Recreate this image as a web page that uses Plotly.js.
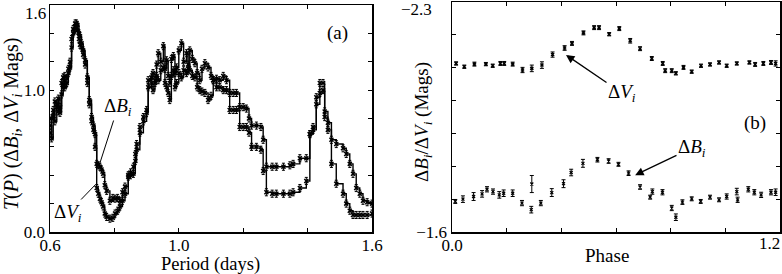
<!DOCTYPE html>
<html><head><meta charset="utf-8">
<script src="https://cdn.plot.ly/plotly-3.0.1.min.js"></script>
<style>html,body{margin:0;padding:0;background:#fff}#c{width:782px;height:274px}</style>
</head><body><div id="c"></div>
<script>
// Panel (a): periodogram T(P)
const periodA = [0.600,0.605,0.610,0.615,0.621,0.626,0.631,0.636,0.641,0.646,0.652,0.657,0.662,0.667,0.672,0.678,0.682,0.685,0.690,0.693,0.698,0.703,0.709,0.716,0.722,0.729,0.735,0.740,0.745,0.750,0.755,0.760,0.765,0.770,0.776,0.786,0.795,0.802,0.810,0.817,0.825,0.833,0.843,0.850,0.859,0.865,0.869,0.879,0.890,0.900,0.905,0.915,0.920,0.926,0.931,0.936,0.944,0.952,0.957,0.962,0.967,0.972,0.977,0.983,0.988,0.993,1.000,1.008,1.015,1.024,1.029,1.034,1.042,1.050,1.057,1.065,1.072,1.081,1.091,1.100,1.107,1.117,1.127,1.138,1.148,1.158,1.169,1.179,1.189,1.200,1.210,1.218,1.226,1.241,1.255,1.262,1.272,1.290,1.303,1.325,1.345,1.355,1.376,1.396,1.407,1.417,1.427,1.438,1.448,1.453,1.463,1.474,1.489,1.510,1.520,1.531,1.541,1.551,1.562,1.572,1.585,1.600];
const tB = [0.70,0.80,0.86,0.78,0.90,0.85,0.88,0.97,1.09,1.02,1.05,1.12,1.16,1.36,1.40,1.45,1.47,1.46,1.40,1.38,1.33,1.28,1.21,1.09,0.93,0.81,0.75,0.69,0.48,0.47,0.46,0.44,0.41,0.33,0.29,0.22,0.24,0.235,0.24,0.22,0.28,0.32,0.39,0.42,0.46,0.55,0.62,0.74,0.81,0.86,1.07,1.09,1.12,1.05,1.18,1.26,1.20,1.31,1.15,1.21,1.10,1.05,1.22,1.24,1.12,1.16,1.28,1.33,1.20,1.26,1.15,1.28,1.22,1.19,1.12,1.07,1.15,1.19,1.16,1.10,1.07,1.08,1.07,1.10,1.07,0.98,0.98,0.98,0.88,0.88,0.87,0.80,0.75,0.75,0.74,0.65,0.46,0.46,0.46,0.46,0.47,0.48,0.52,0.52,0.69,0.74,0.95,1.05,1.05,0.85,0.77,0.65,0.62,0.59,0.55,0.48,0.41,0.31,0.27,0.22,0.21,0.20];
const tV = [0.75,0.66,0.82,0.92,0.88,0.94,0.84,1.05,1.02,1.10,1.08,1.15,1.20,1.30,1.43,1.47,1.44,1.42,1.36,1.32,1.30,1.25,1.18,1.05,0.90,0.78,0.72,0.60,0.31,0.27,0.235,0.21,0.18,0.13,0.106,0.094,0.10,0.13,0.15,0.18,0.22,0.27,0.40,0.40,0.41,0.50,0.58,0.70,0.78,0.84,1.02,1.05,1.00,1.07,1.10,1.07,1.14,1.16,1.05,1.02,0.98,0.93,1.10,1.14,1.02,1.05,1.12,1.09,1.14,1.12,1.18,1.14,1.10,1.09,1.02,1.00,0.99,0.98,0.93,0.96,1.07,1.02,1.02,1.00,1.00,0.86,0.86,0.86,0.74,0.74,0.74,0.70,0.60,0.60,0.58,0.43,0.28,0.27,0.27,0.27,0.27,0.28,0.31,0.36,0.69,0.72,0.90,0.98,1.00,0.81,0.72,0.48,0.34,0.27,0.20,0.15,0.12,0.12,0.12,0.12,0.12,0.13];
const errA = 0.025;
const tickValsA_x = [0.6, 1.0, 1.6];
const tickTextA_x = ['0.6', '1.0', '1.6'];
const tickValsA_y = [0, 1.0];
const tickTextA_y = ['0.0', '1.0'];
const topLabelA_y = {value: 1.6, text: '1.6'};

// Panel (b): phased light curves
const phaseV = [0.015,0.045,0.082,0.124,0.149,0.177,0.191,0.222,0.258,0.292,0.329,0.368,0.412,0.439,0.481,0.520,0.538,0.575,0.612,0.652,0.688,0.731,0.771,0.780,0.804,0.819,0.847,0.877,0.911,0.944,0.977,1.005,1.042,1.088,1.109,1.139,1.167,1.184];
const magV = [-2.113,-2.103,-2.111,-2.111,-2.106,-2.113,-2.113,-2.111,-2.093,-2.098,-2.108,-2.140,-2.160,-2.174,-2.206,-2.222,-2.222,-2.202,-2.219,-2.182,-2.158,-2.128,-2.113,-2.091,-2.091,-2.083,-2.101,-2.088,-2.106,-2.110,-2.116,-2.106,-2.113,-2.116,-2.110,-2.113,-2.116,-2.113];
const errV = [0.005,0.005,0.006,0.005,0.005,0.006,0.006,0.006,0.008,0.010,0.010,0.008,0.007,0.006,0.006,0.006,0.006,0.005,0.006,0.007,0.006,0.006,0.006,0.006,0.006,0.005,0.006,0.005,0.005,0.005,0.005,0.005,0.005,0.005,0.006,0.006,0.006,0.008];
const phaseB = [0.012,0.040,0.079,0.110,0.128,0.150,0.173,0.189,0.222,0.256,0.290,0.292,0.325,0.365,0.408,0.436,0.479,0.532,0.573,0.609,0.646,0.688,0.725,0.733,0.770,0.804,0.819,0.843,0.877,0.910,0.944,0.977,1.005,1.042,1.045,1.084,1.106,1.131,1.167,1.184];
const magB = [-1.693,-1.700,-1.708,-1.716,-1.730,-1.723,-1.713,-1.718,-1.718,-1.688,-1.668,-1.746,-1.688,-1.720,-1.747,-1.781,-1.809,-1.820,-1.816,-1.806,-1.779,-1.737,-1.706,-1.723,-1.721,-1.673,-1.645,-1.691,-1.701,-1.693,-1.706,-1.698,-1.708,-1.723,-1.698,-1.730,-1.721,-1.713,-1.721,-1.721];
const errB = [0.006,0.010,0.012,0.010,0.008,0.008,0.010,0.010,0.010,0.008,0.010,0.026,0.008,0.012,0.012,0.010,0.012,0.007,0.007,0.006,0.007,0.007,0.006,0.008,0.008,0.008,0.010,0.007,0.006,0.006,0.006,0.006,0.008,0.010,0.008,0.008,0.008,0.008,0.008,0.010];
const tickValsB_x = [0.0];
const tickTextB_x = ['0.0'];
const endLabelB_x = {value: 1.2, text: '1.2'};
const tickValsB_y = [-1.6];
const tickTextB_y = ['\u22121.6'];
const topLabelB_y = {value: -2.3, text: '\u22122.3'};

const serif = '"Liberation Serif", "DejaVu Serif", serif';
const blk = '#000';
const tf = {family:serif, size:17, color:blk};

const traces = [
  {x: periodA, y: tB, type:'scatter', mode:'lines+markers', line:{shape:'hv', color:blk, width:1.4},
   marker:{symbol:'x-thin', size:4, color:blk, line:{width:1.5, color:blk}},
   error_y:{type:'constant', value:errA, color:blk, thickness:1, width:1.5}, xaxis:'x', yaxis:'y', hoverinfo:'skip'},
  {x: periodA, y: tV, type:'scatter', mode:'lines+markers', line:{shape:'hv', color:blk, width:1.4},
   marker:{symbol:'x-thin', size:4, color:blk, line:{width:1.5, color:blk}},
   error_y:{type:'constant', value:errA, color:blk, thickness:1, width:1.5}, xaxis:'x', yaxis:'y', hoverinfo:'skip'},
  {x: phaseV, y: magV, type:'scatter', mode:'markers',
   marker:{symbol:'x-thin', size:3, color:blk, line:{width:1.5, color:blk}},
   error_y:{type:'data', array:errV, color:blk, thickness:1, width:2}, xaxis:'x2', yaxis:'y2', hoverinfo:'skip'},
  {x: phaseB, y: magB, type:'scatter', mode:'markers',
   marker:{symbol:'x-thin', size:3, color:blk, line:{width:1.2, color:blk}},
   error_y:{type:'data', array:errB, color:blk, thickness:1, width:2}, xaxis:'x2', yaxis:'y2', hoverinfo:'skip'}
];

function ax(extra){
  return Object.assign({showline:true, linecolor:blk, linewidth:1.5, mirror:'ticks', ticks:'inside', ticklen:4,
    tickcolor:blk, tickwidth:1, showgrid:false, zeroline:false, ticklabeloverflow:'allow',
    tickfont:tf, tickmode:'array'}, extra);
}
const minorT = d => ({dtick:d, tick0:0, ticks:'inside', ticklen:4, tickcolor:blk, tickwidth:1});

const layout = {
  width:782, height:274, margin:{l:0,r:0,t:0,b:0}, showlegend:false,
  paper_bgcolor:'#fff', plot_bgcolor:'#fff',
  font:{family:serif, color:blk},
  xaxis: ax({domain:[50/782, 372/782], range:[0.6,1.6], anchor:'y', ticklabelstandoff:-3,
    tickvals:tickValsA_x, ticktext:tickTextA_x, minor:minorT(0.2)}),
  yaxis: ax({domain:[1-232/274, 1-5/274], range:[0,1.6], anchor:'x',
    tickvals:tickValsA_y, ticktext:tickTextA_y, minor:minorT(0.2)}),
  xaxis2: ax({domain:[452/782, 780/782], range:[0,1.2], anchor:'y2', ticklabelstandoff:-3,
    tickvals:tickValsB_x, ticktext:tickTextB_x, minor:minorT(0.2)}),
  yaxis2: ax({domain:[1-232/274, 1-2/274], range:[-1.6,-2.3], anchor:'x2',
    tickvals:tickValsB_y, ticktext:tickTextB_y, minor:minorT(0.1)}),
  annotations:[
    // axis titles
    {xref:'paper', yref:'paper', x:211/782, y:1-264/274, xanchor:'center', yanchor:'middle', text:'Period (days)', showarrow:false, font:{family:serif, size:18.5, color:blk}},
    {xref:'paper', yref:'paper', x:607/782, y:1-255/274, xanchor:'center', yanchor:'middle', text:'Phase', showarrow:false, font:{family:serif, size:19, color:blk}},
    {xref:'paper', yref:'paper', x:12/782, y:1-124/274, xanchor:'center', yanchor:'middle', textangle:-90, text:'<i>T</i>(<i>P</i>) (Δ<i>B<sub>i</sub></i>, Δ<i>V<sub>i</sub></i> Mags)', showarrow:false, font:{family:serif, size:20, color:blk}},
    {xref:'paper', yref:'paper', x:423/782, y:1-122/274, xanchor:'center', yanchor:'middle', textangle:-90, text:'Δ<i>B<sub>i</sub></i>/Δ<i>V<sub>i</sub></i> (Mags)', showarrow:false, font:{family:serif, size:19, color:blk}},
    // edge tick labels
    {xref:'paper', yref:'y', x:48/782, xanchor:'right', y:topLabelA_y.value, yanchor:'top', yshift:3, text:topLabelA_y.text, showarrow:false, font:tf},
    {xref:'paper', yref:'y2', x:434/782, xanchor:'right', y:topLabelB_y.value, yanchor:'top', yshift:4, text:topLabelB_y.text, showarrow:false, font:tf},
    {xref:'paper', yref:'y2', x:1, xanchor:'right', y:-1.6, yanchor:'top', yshift:0, text:endLabelB_x.text, showarrow:false, font:tf},
    // panel labels & arrows
    {xref:'x', yref:'y', x:1.494, y:1.40, text:'(a)', showarrow:false, font:{family:serif, size:19, color:blk}},
    {xref:'x', yref:'y', x:0.755, y:0.486, axref:'x', ayref:'y', ax:0.811, ay:0.881,
     text:'Δ<i>B<sub>i</sub></i>', showarrow:true, arrowhead:0, arrowwidth:1, arrowcolor:blk, font:{family:serif, size:19, color:blk}},
    {xref:'x', yref:'y', x:0.740, y:0.331, axref:'x', ayref:'y', ax:0.656, ay:0.134,
     text:'Δ<i>V<sub>i</sub></i>', showarrow:true, arrowhead:0, arrowwidth:1, arrowcolor:blk, font:{family:serif, size:19, color:blk}},
    {xref:'x2', yref:'y2', x:1.108, y:-1.932, text:'(b)', showarrow:false, font:{family:serif, size:19, color:blk}},
    {xref:'x2', yref:'y2', x:0.417, y:-2.139, axref:'x2', ayref:'y2', ax:0.622, ay:-2.023,
     text:'Δ<i>V<sub>i</sub></i>', showarrow:true, arrowhead:2, arrowsize:1.3, arrowwidth:1.3, arrowcolor:blk, font:{family:serif, size:19, color:blk}},
    {xref:'x2', yref:'y2', x:0.670, y:-1.773, axref:'x2', ayref:'y2', ax:0.878, ay:-1.856,
     text:'Δ<i>B<sub>i</sub></i>', showarrow:true, arrowhead:2, arrowsize:1.3, arrowwidth:1.3, arrowcolor:blk, font:{family:serif, size:19, color:blk}}
  ]
};
Plotly.newPlot('c', traces, layout, {displayModeBar:false, staticPlot:true});
</script></body></html>
